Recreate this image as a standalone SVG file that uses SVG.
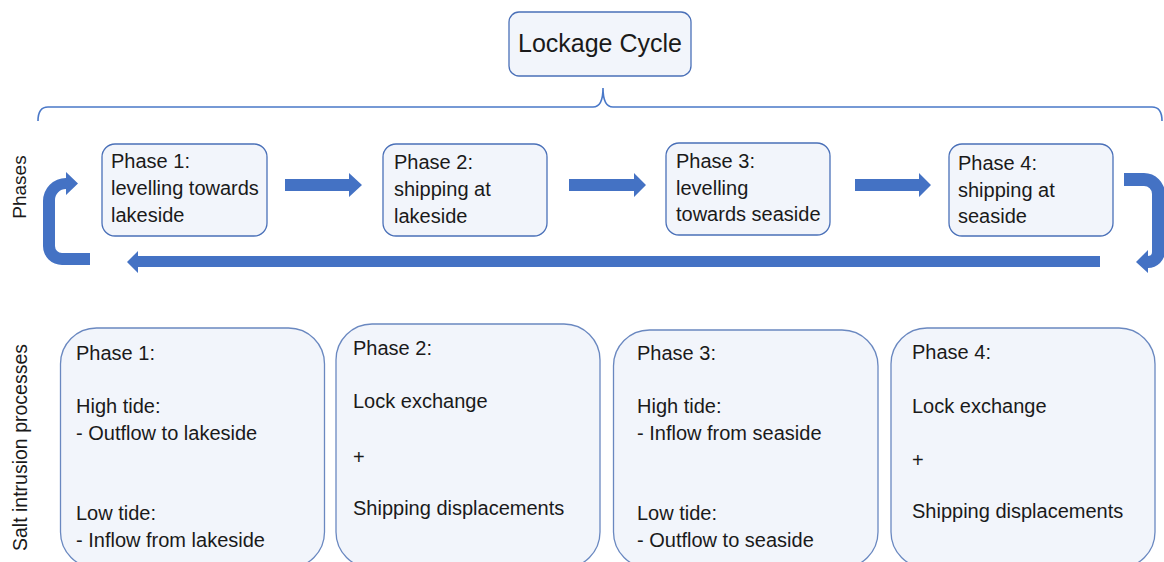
<svg xmlns="http://www.w3.org/2000/svg" width="1164" height="562" viewBox="0 0 1164 562">
<style>
text{font-family:"Liberation Sans",Arial,sans-serif;fill:#1a1a1a}
.t20{font-size:20px}
.box{fill:#F2F5FB;stroke:#4A70B8;stroke-width:1.3}
.bbox{fill:#F2F5FB;stroke:#6A88C0;stroke-width:1.3}
.arr{fill:#4472C4}
.brace{fill:none;stroke:#4A78C8;stroke-width:1.6}
</style>
<rect width="1164" height="562" fill="#ffffff"/>
<g id="title">
<rect class="box" x="509" y="12" width="182" height="64" rx="10"/>
<text x="600" y="52" font-size="25" text-anchor="middle">Lockage Cycle</text>
</g>
<g id="brace">
<path class="brace" d="M38,121 Q38,107 48,107 L593,107 Q603,107 603,88 Q603,107 613,107 L1152,107 Q1162,107 1162,121"/>
</g>
<g id="label-phases"><text class="t20" font-size="19" transform="translate(26,187) rotate(-90)" text-anchor="middle" style="font-size:19px">Phases</text></g>
<g id="label-salt"><text transform="translate(27,447.5) rotate(-90)" text-anchor="middle" style="font-size:19.5px">Salt intrusion processes</text></g>
<g id="phase1">
<rect class="box" x="102" y="144" width="165" height="92" rx="13"/>
<text class="t20" x="111" y="168">Phase 1:</text>
<text class="t20" x="111" y="195">levelling towards</text>
<text class="t20" x="111" y="222">lakeside</text>
</g>
<g id="phase2">
<rect class="box" x="383" y="144" width="164" height="92" rx="13"/>
<text class="t20" x="394" y="169">Phase 2:</text>
<text class="t20" x="394" y="196">shipping at</text>
<text class="t20" x="394" y="223">lakeside</text>
</g>
<g id="phase3">
<rect class="box" x="666" y="143" width="164" height="92" rx="13"/>
<text class="t20" x="676" y="168">Phase 3:</text>
<text class="t20" x="676" y="195">levelling</text>
<text class="t20" x="676" y="221">towards seaside</text>
</g>
<g id="phase4">
<rect class="box" x="949" y="144" width="164" height="92" rx="13"/>
<text class="t20" x="958" y="170">Phase 4:</text>
<text class="t20" x="958" y="197">shipping at</text>
<text class="t20" x="958" y="223">seaside</text>
</g>
<g id="connectors">
<polygon class="arr" points="285,179 349,179 349,173 362,185 349,197 349,191 285,191"/>
<polygon class="arr" points="569,179 634,179 634,173 646,185 634,197 634,191 569,191"/>
<polygon class="arr" points="855,179 919,179 919,173 931,185 919,197 919,191 855,191"/>
<path class="arr" d="M1124,173 L1144,173 A21 21 0 0 1 1165,194 L1165,251 A17 17 0 0 1 1148,268 L1148,273 L1136,262 L1148,250 L1148,256 A4 4 0 0 0 1152,252 L1152,194 A8 8 0 0 0 1144,186 L1124,186 Z"/>
<polygon class="arr" points="1100,256 138,256 138,251 127,262 138,273 138,267 1100,267"/>
<path class="arr" d="M90,265 L62,265 A19 19 0 0 1 43,246 L43,201 A23 23 0 0 1 66,178 L66,172 L78,183.5 L66,195 L66,189 A11 11 0 0 0 55,200 L55,246 A7 7 0 0 0 62,253 L90,253 Z"/>
</g>
<g id="salt1">
<rect class="bbox" x="60.5" y="328" width="264" height="240" rx="36"/>
<text class="t20" x="76" y="360">Phase 1:</text>
<text class="t20" x="76" y="413">High tide:</text>
<text class="t20" x="76" y="440">- Outflow to lakeside</text>
<text class="t20" x="76" y="520">Low tide:</text>
<text class="t20" x="76" y="547">- Inflow from lakeside</text>
</g>
<g id="salt2">
<rect class="bbox" x="336" y="324" width="264" height="244" rx="36"/>
<text class="t20" x="353" y="355">Phase 2:</text>
<text class="t20" x="353" y="408">Lock exchange</text>
<text class="t20" x="353" y="464">+</text>
<text class="t20" x="353" y="515">Shipping displacements</text>
</g>
<g id="salt3">
<rect class="bbox" x="613.5" y="330" width="264.5" height="238" rx="36"/>
<text class="t20" x="637" y="360">Phase 3:</text>
<text class="t20" x="637" y="413">High tide:</text>
<text class="t20" x="637" y="440">- Inflow from seaside</text>
<text class="t20" x="637" y="520">Low tide:</text>
<text class="t20" x="637" y="547">- Outflow to seaside</text>
</g>
<g id="salt4">
<rect class="bbox" x="891" y="328" width="264" height="240" rx="36"/>
<text class="t20" x="912" y="359">Phase 4:</text>
<text class="t20" x="912" y="413">Lock exchange</text>
<text class="t20" x="912" y="467">+</text>
<text class="t20" x="912" y="518">Shipping displacements</text>
</g>
</svg>
